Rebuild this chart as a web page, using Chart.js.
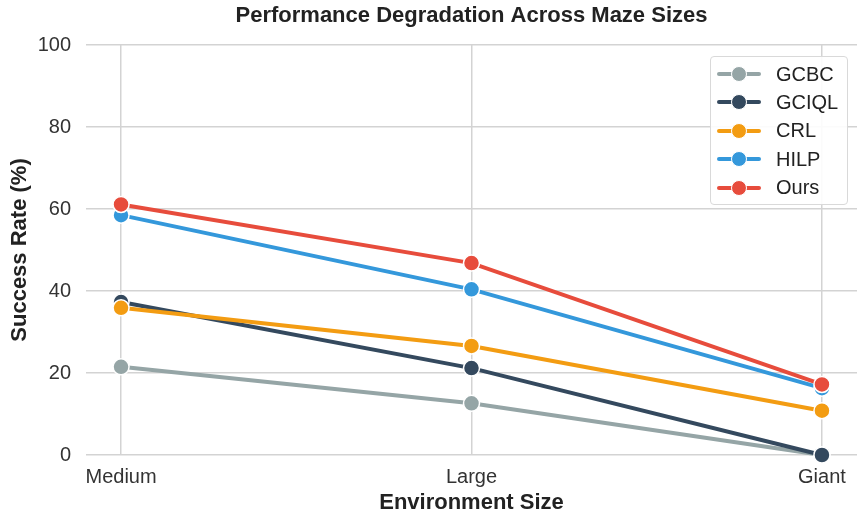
<!DOCTYPE html>
<html>
<head>
<meta charset="utf-8">
<script src="https://cdn.jsdelivr.net/npm/chart.js@4"></script>
<style>
  html, body { margin: 0; padding: 0; background: #fff; }
  #wrap { position: relative; width: 857px; height: 512px; }
  #legend {
    position: absolute; left: 710px; top: 56px; width: 136px; height: 147px;
    border: 1px solid #d9d9d9; border-radius: 4px; background: rgba(255,255,255,0.9);
    font-family: "Liberation Sans", Arial, sans-serif; font-size: 20px; color: #222;
    box-sizing: content-box;
  }
  #legend .item { position: absolute; left: 6px; height: 22px; display: flex; align-items: center; }
  #legend .sample { position: relative; width: 44px; height: 22px; margin-right: 15px; }
  #legend .sample .ln { position: absolute; left: 0; top: 9px; width: 44px; height: 4px; border-radius: 2px; }
  #legend .sample .dot { position: absolute; left: 14px; top: 3px; width: 14px; height: 14px; border-radius: 50%; border: 1px solid #fff; }
</style>
</head>
<body>
<div id="wrap">
  <canvas id="chart" width="857" height="512"></canvas>
  <div id="legend"></div>
</div>
<script>
// --- DATI ---
const sizes = ["Medium", "Large", "Giant"];
const methods = ["GCBC", "GCIQL", "CRL", "HILP", "Ours"];

const gcbc  = [21.5, 12.6, 0];
const gciql = [37.3, 21.2, 0];
const crl   = [35.9, 26.6, 10.8];
const hilp  = [58.5, 40.4, 16.3];
const ours  = [61.1, 46.8, 17.2];

const yTicks = [0, 20, 40, 60, 80, 100];

const colors = ["#95a5a6", "#34495e", "#f39c12", "#3498db", "#e74c3c"];
const series = [gcbc, gciql, crl, hilp, ours];

const FONT = "'Liberation Sans', Arial, sans-serif";

// titolo centrato sull'area del grafico
const titlePlugin = {
  id: "plotTitle",
  afterDraw(chart) {
    const { ctx, chartArea } = chart;
    ctx.save();
    ctx.font = "bold 22px " + FONT;
    ctx.fillStyle = "#222";
    ctx.textAlign = "center";
    ctx.textBaseline = "middle";
    ctx.fillText("Performance Degradation Across Maze Sizes", (chartArea.left + chartArea.right) / 2, 16);
    ctx.restore();
  }
};

const datasets = series.map((vals, i) => ({
  label: methods[i],
  data: vals.map((v, j) => ({ x: j, y: v })),
  borderColor: colors[i],
  backgroundColor: colors[i],
  borderWidth: 4,
  pointRadius: 8,
  pointBorderWidth: 1.5,
  pointBorderColor: "#fff",
  pointBackgroundColor: colors[i],
  order: series.length - 1 - i,
  clip: false
}));

new Chart(document.getElementById("chart"), {
  type: "line",
  data: { datasets },
  options: {
    responsive: false,
    animation: false,
    layout: { autoPadding: false, padding: { top: 45, right: 0, left: 0, bottom: 0 } },
    plugins: { legend: { display: false }, tooltip: { enabled: false } },
    scales: {
      x: {
        type: "linear",
        min: -0.1,
        max: 2.1,
        afterBuildTicks: axis => { axis.ticks = sizes.map((s, i) => ({ value: i })); },
        afterFit: axis => { axis.height = 57; axis.paddingLeft = 0; axis.paddingRight = 0; },
        ticks: {
          callback: v => sizes[v],
          color: "#333",
          font: { family: FONT, size: 20 },
          padding: 10,
          maxRotation: 0
        },
        grid: { color: "#d3d3d3", lineWidth: 1.5, drawTicks: false },
        border: { display: false },
        title: {
          display: true,
          text: "Environment Size",
          color: "#222",
          font: { family: FONT, size: 22, weight: "bold", lineHeight: 0.8 },
          padding: { top: 0, bottom: 0 }
        }
      },
      y: {
        min: 0,
        max: 100,
        afterBuildTicks: axis => { axis.ticks = yTicks.map(v => ({ value: v })); },
        afterFit: axis => { axis.width = 86; },
        ticks: {
          color: "#333",
          font: { family: FONT, size: 20 },
          padding: 15
        },
        grid: { color: "#d3d3d3", lineWidth: 1.5, drawTicks: false },
        border: { display: false },
        title: {
          display: true,
          text: "Success Rate (%)",
          color: "#222",
          font: { family: FONT, size: 22, weight: "bold", lineHeight: 1 },
          padding: { top: 9, bottom: 0 }
        }
      }
    }
  },
  plugins: [titlePlugin]
});

// --- LEGENDA PERSONALIZZATA ---
const legendBox = document.getElementById("legend");
methods.forEach((m, i) => {
  const item = document.createElement("div");
  item.className = "item";
  item.style.top = (6 + i * 28.4) + "px";
  item.innerHTML = `
    <div class="sample">
      <div class="ln" style="background:${colors[i]}"></div>
      <div class="dot" style="background:${colors[i]}"></div>
    </div>${m}`;
  legendBox.appendChild(item);
});
</script>
</body>
</html>
